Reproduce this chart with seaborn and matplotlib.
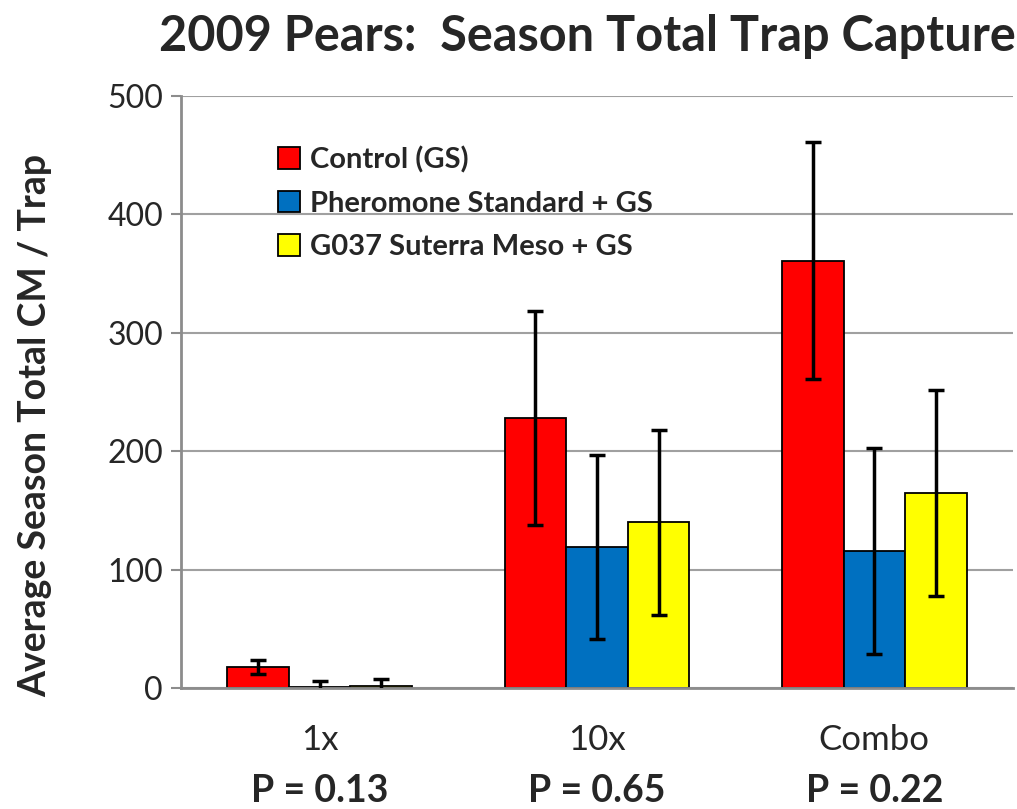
import matplotlib
matplotlib.use("Agg")
import matplotlib.pyplot as plt
import numpy as np
import pandas as pd
import seaborn as sns

sns.set_theme(style="white")
plt.rcParams["font.family"] = ["Lato", "DejaVu Sans"]

categories = ["1x", "10x", "Combo"]
treatments = ["Control (GS)", "Pheromone Standard + GS", "G037 Suterra Meso + GS"]
colors = ["#ff0000", "#0070c0", "#ffff00"]
means = {
    "Control (GS)": [18, 228, 361],
    "Pheromone Standard + GS": [1, 119, 116],
    "G037 Suterra Meso + GS": [2, 140, 165],
}
errors = {
    "Control (GS)": [6, 90, 100],
    "Pheromone Standard + GS": [5, 78, 87],
    "G037 Suterra Meso + GS": [5.5, 78, 87],
}
p_values = ["P = 0.13", "P = 0.65", "P = 0.22"]

rows = []
for t in treatments:
    for c, m, e in zip(categories, means[t], errors[t]):
        rows.append({"category": c, "treatment": t, "mean": m, "err": e})
df = pd.DataFrame(rows)

fig = plt.figure(figsize=(10.17, 8.09), dpi=100)
ax = fig.add_axes([181 / 1017, 1 - 688 / 809, 832 / 1017, 592 / 809])

sns.barplot(data=df, x="category", y="mean", hue="treatment", order=categories,
            hue_order=treatments, palette=colors, saturation=1, width=0.667,
            errorbar=None, edgecolor="black", linewidth=1.3, ax=ax, zorder=2)

# error bars centred on each drawn bar
for i, t in enumerate(treatments):
    cont = ax.containers[i]
    xs = [p.get_x() + p.get_width() / 2 for p in cont.patches]
    ys = [p.get_height() for p in cont.patches]
    ax.errorbar(xs, ys, yerr=errors[t], fmt="none", ecolor="black",
                elinewidth=2.5, capsize=6, capthick=2.5, zorder=3)

ax.set_ylim(0, 500)
ax.set_xlim(-0.5, 2.5)
ax.set_yticks(range(0, 501, 100))
ax.yaxis.grid(True, color="#a0a0a0", linewidth=1.5, zorder=0)
ax.set_axisbelow(True)
for side in ["top", "right"]:
    ax.spines[side].set_visible(False)
for side in ["left", "bottom"]:
    ax.spines[side].set_color("#8c8c8c")
    ax.spines[side].set_linewidth(2)
ax.tick_params(axis="y", left=True, length=7, width=1.5, color="#8c8c8c",
               labelsize=23, pad=6)
ax.tick_params(axis="x", bottom=False, labelsize=25, pad=20)
ax.set_xlabel("")
ax.set_ylabel("Average Season Total CM / Trap", fontsize=27, fontweight="bold")
ax.yaxis.set_label_coords(-0.155, 0.444)

for i, p in enumerate(p_values):
    ax.text(i, -0.174, p, transform=ax.get_xaxis_transform(), ha="center",
            va="center", fontsize=27, fontweight="bold")

fig.text(0.578, 0.955, "2009 Pears:  Season Total Trap Capture", ha="center",
         va="center", fontsize=35, fontweight="bold")

handles, labels = ax.get_legend_handles_labels()
ax.legend(handles, labels, loc="upper left", bbox_to_anchor=(0.085, 0.96),
          frameon=False, handlelength=0.75, handleheight=0.75,
          handletextpad=0.35, labelspacing=0.6,
          prop={"weight": "bold", "size": 21})

fig.savefig("out.png", dpi=100)
